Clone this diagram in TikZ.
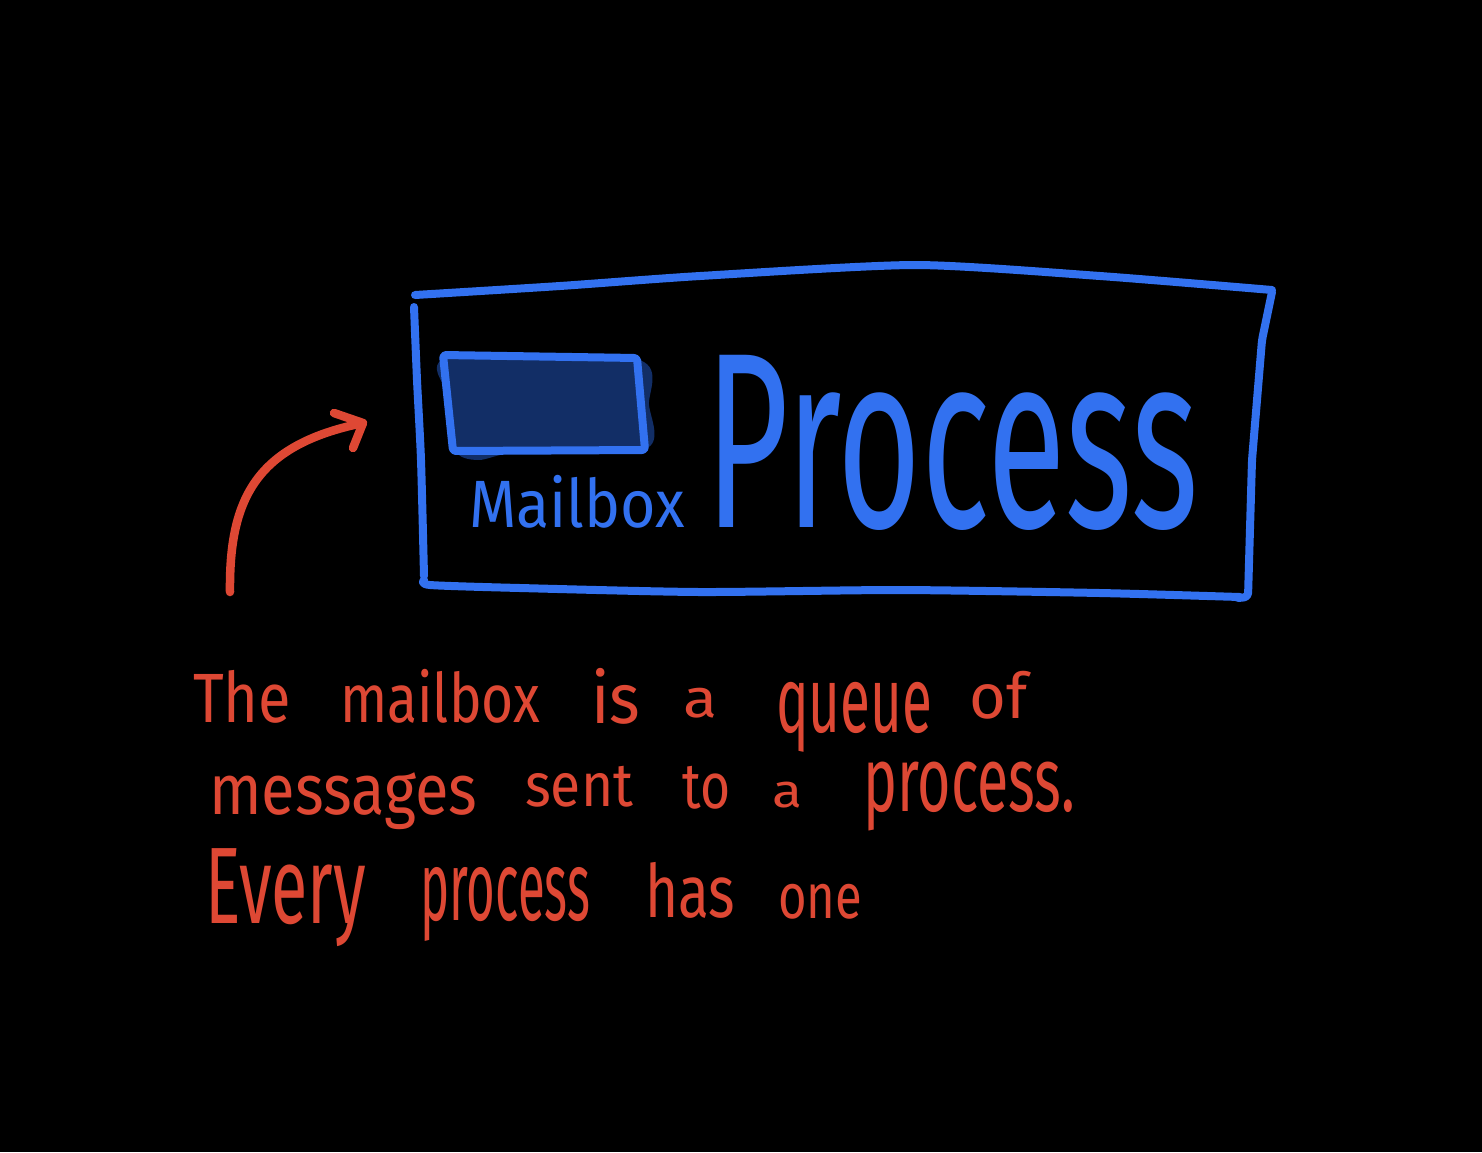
\documentclass[tikz,border=0pt]{standalone}
\usepackage{fontspec}
\setmainfont{Fira Sans}
\usepackage{graphicx}
\definecolor{penblue}{RGB}{50,113,240}
\definecolor{boxfill}{RGB}{18,46,102}
\definecolor{penred}{RGB}{222,72,52}
\newcommand\hwword[3]{\resizebox*{#1pt}{#2pt}{#3}}
\tikzset{
  bluepen/.style={draw=penblue, line width=8pt, line cap=round, line join=round},
  redpen/.style={draw=penred, line width=8.5pt, line cap=round, line join=round},
  redword/.style={anchor=north west, inner sep=0pt, text=penred, font=\mdseries},
  blueword/.style={anchor=north west, inner sep=0pt, text=penblue, font=\mdseries},
}
\begin{document}
\begin{tikzpicture}[x=1pt,y=-1pt]
\useasboundingbox[fill=black] (0,0) rectangle (1482,1152);

% process box (hand drawn)
\draw[bluepen] plot[smooth, tension=0.4] coordinates {(415,295) (560,286) (700,276) (915,265) (1100,276) (1272,290)};
\draw[bluepen, rounded corners=4pt] (1272,292) -- (1262,340) -- (1252,460) -- (1248,597) -- (1238,598);
\draw[bluepen] plot[smooth, tension=0.4] coordinates {(1240,597) (1100,593) (900,590) (700,592) (520,588) (430,585) (424,580)};
\draw[bluepen] plot[smooth, tension=0.4] coordinates {(424,576) (421,460) (417,380) (414,307)};

% mailbox rectangle
\fill[boxfill] plot[smooth cycle, tension=0.5] coordinates {(448,358) (636,359) (649,405) (645,449) (520,452) (478,460) (455,450) (450,400)};
\draw[bluepen, rounded corners=3pt] (443,355) -- (637,358) -- (645,450) -- (453,451) -- cycle;

% labels
\node[blueword] (mailbox) at (469,475) {\hwword{216}{53}{Mailbox}};
\node[blueword] (process) at (705,355) {\hwword{493}{175}{Process}};

% note text
\node[redword] (w1) at (193,670) {\hwword{98}{53}{The}};
\node[redword] (w2) at (340,669) {\hwword{200}{54}{mailbox}};
\node[redword] (w3) at (591,668) {\hwword{49}{56}{is}};
\node[redword] (w4) at (683,688) {\hwword{34}{30}{a}};
\node[redword] (w5) at (776,682) {\hwword{156}{70}{queue}};
\node[redword] (w6) at (969,671) {\hwword{58}{48}{of}};

\node[redword] (w7) at (209,772) {\hwword{268}{57}{messages}};
\node[redword] (w8) at (525,766) {\hwword{108}{41}{sent}};
\node[redword] (w9) at (682,766) {\hwword{48}{43}{to}};
\node[redword] (w10) at (772,782) {\hwword{30}{26}{a}};
\node[redword] (w11) at (863,762) {\hwword{212}{69}{process.}};

\node[redword] (w12) at (205,848) {\hwword{161}{98}{Every}};
\node[redword] (w13) at (420,867) {\hwword{170}{74}{process}};
\node[redword] (w14) at (645,862) {\hwword{90}{56}{has}};
\node[redword] (w15) at (778,884) {\hwword{84}{35}{one}};

% arrow
\coordinate (astart) at (230,592);
\coordinate (atip) at (363,423);
\coordinate (ahead1) at (334,413);
\coordinate (ahead2) at (353,448);
\draw[redpen] (astart) .. controls (229,500) and (255,445) .. (atip);
\draw[redpen] (ahead1) -- (atip) -- (ahead2);
\end{tikzpicture}
\end{document}
